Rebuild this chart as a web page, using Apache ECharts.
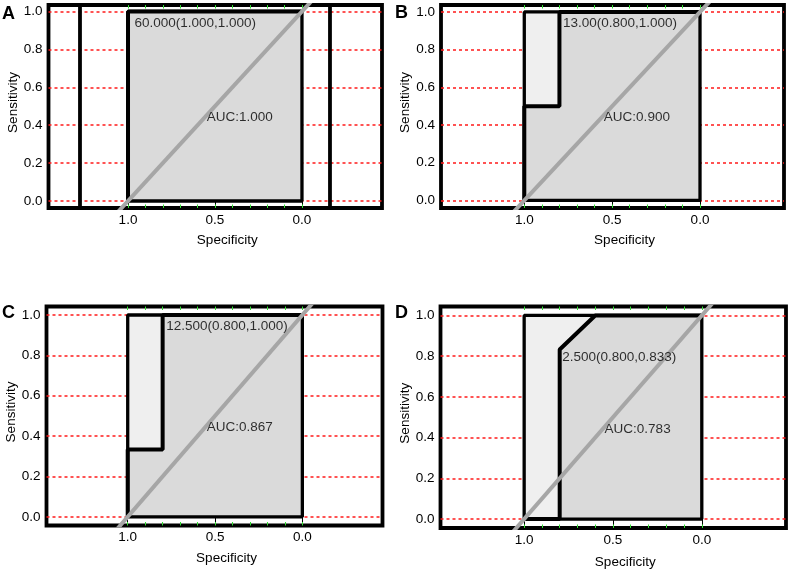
<!DOCTYPE html>
<html><head><meta charset="utf-8">
<script src="https://cdn.jsdelivr.net/npm/echarts@6/dist/echarts.min.js"></script>
<style>html,body{margin:0;padding:0;background:#fff}#c{width:789px;height:570px}</style>
</head><body><div id="c"></div>
<script>
// ---- data ----
const panelLetters = ['A', 'B', 'C', 'D'];
const rocA = [[1, 0], [1, 1], [0, 1]];
const rocB = [[1, 0], [1, 0.5], [0.8, 0.5], [0.8, 1], [0, 1]];
const rocC = [[1, 0], [1, 0.333], [0.8, 0.333], [0.8, 1], [0, 1]];
const rocD = [[1, 0], [0.8, 0], [0.8, 0.833], [0.6, 1], [0, 1]];
const rocCurves = [rocA, rocB, rocC, rocD];
const cutoffPoints = [[1, 1], [0.8, 1], [0.8, 1], [0.8, 0.833]];
const cutoffLabels = ['60.000(1.000,1.000)', '13.00(0.800,1.000)', '12.500(0.800,1.000)', '2.500(0.800,0.833)'];
const aucLabels = ['AUC:1.000', 'AUC:0.900', 'AUC:0.867', 'AUC:0.783'];
const aucLabelAnchor = [0.55, 0.44];
const extraVerticalA = [1.276, -0.161];
const unitSquare = [[1, 0], [1, 1], [0, 1], [0, 0], [1, 0]];
const squareTop = [[1, 1], [0, 1]];
const chanceLine = [[1.2, -0.2], [-0.2, 1.2]];
const yTicks = [0, 0.2, 0.4, 0.6, 0.8, 1.0];
const xTicks = [1.0, 0.5, 0.0];
const xMinorTicks = [0, 0.1, 0.2, 0.3, 0.4, 0.5, 0.6, 0.7, 0.8, 0.9, 1.0];

// ---- layout / style ----
const FONT = 'Liberation Sans, Arial, sans-serif';
const FS = 13.5;
const grids = [
  { left: 48.5, top: 5, width: 333.5, height: 203 },
  { left: 441, top: 5, width: 343, height: 203 },
  { left: 46.5, top: 306.5, width: 336, height: 219 },
  { left: 440.5, top: 306.5, width: 345.5, height: 221.5 }
];
const xRanges = [[-0.46, 1.457], [-0.478, 1.474], [-0.459, 1.465], [-0.474, 1.471]];
const yRanges = [[-0.037, 1.034], [-0.04, 1.037], [-0.043, 1.042], [-0.044, 1.044]];
const letterPos = [[2, 5], [395, 4], [2, 304], [395, 304]];
const xNameGaps = [25, 25, 26, 27];
const cutoffOffsets = [[7, 5], [4, 5], [4, 5], [3, 1]];

const option = {
  animation: false,
  backgroundColor: '#fff',
  textStyle: { fontFamily: FONT },
  grid: grids.map(g => Object.assign({
    show: true, borderColor: '#000', borderWidth: 3.8, backgroundColor: '#fff',
    containLabel: false, outerBoundsMode: 'none'
  }, g)),
  xAxis: [],
  yAxis: [],
  series: [],
  graphic: panelLetters.map((t, i) => ({
    type: 'text', left: letterPos[i][0], top: letterPos[i][1],
    style: { text: t, font: 'bold 18px ' + FONT, fill: '#000' }
  }))
};

grids.forEach((g, i) => {
  const fmt = v => v.toFixed(1);
  option.xAxis.push({
    type: 'value', gridIndex: i, inverse: true, min: xRanges[i][0], max: xRanges[i][1], position: 'bottom',
    axisLine: { show: false },
    axisTick: { show: true, customValues: xTicks, length: 7, lineStyle: { color: '#000', width: 1 } },
    axisLabel: { customValues: xTicks, formatter: fmt, margin: 5, fontSize: FS, color: '#000', fontFamily: FONT },
    splitLine: { show: false },
    name: 'Specificity', nameLocation: 'middle', nameGap: xNameGaps[i],
    nameTextStyle: { fontSize: FS, color: '#000', fontFamily: FONT, padding: [0, 0, 0, 24] }
  });
  option.xAxis.push({
    type: 'value', gridIndex: i, inverse: true, min: xRanges[i][0], max: xRanges[i][1], position: 'top',
    axisLine: { show: false },
    axisTick: { show: true, inside: true, customValues: xMinorTicks, length: 3.5, lineStyle: { color: '#33dd33', width: 1 } },
    axisLabel: { show: false }, splitLine: { show: false }
  });
  option.xAxis.push({
    type: 'value', gridIndex: i, inverse: true, min: xRanges[i][0], max: xRanges[i][1], position: 'bottom',
    axisLine: { show: false },
    axisTick: { show: true, inside: true, customValues: xMinorTicks, length: 3.5, lineStyle: { color: '#33dd33', width: 1 } },
    axisLabel: { show: false }, splitLine: { show: false }
  });
  option.yAxis.push({
    type: 'value', gridIndex: i, min: yRanges[i][0], max: yRanges[i][1],
    axisLine: { show: false },
    axisTick: { show: true, customValues: yTicks, length: 4, lineStyle: { color: '#000', width: 1 } },
    axisLabel: { customValues: yTicks, formatter: fmt, margin: 6, fontSize: FS, color: '#000', fontFamily: FONT },
    splitLine: { show: true, lineStyle: { color: '#ff1a1a', type: [3, 3], width: 1.5 } },
    name: 'Sensitivity', nameLocation: 'middle', nameGap: 22,
    nameTextStyle: { fontSize: FS, color: '#000', fontFamily: FONT, padding: [0, 0, 0, 8] }
  });

  const xi = i * 3, yi = i;
  const base = { xAxisIndex: xi, yAxisIndex: yi, silent: true, symbol: 'none', clip: true };
  option.series.push(Object.assign({}, base, {
    type: 'line', data: squareTop, lineStyle: { width: 0 },
    areaStyle: { color: '#efefef', opacity: 1, origin: 0 }, z: 1
  }));
  option.series.push(Object.assign({}, base, {
    type: 'line', data: rocCurves[i], lineStyle: { width: 0 },
    areaStyle: { color: '#dadada', opacity: 1, origin: 0 }, z: 2
  }));
  option.series.push(Object.assign({}, base, {
    type: 'line', data: unitSquare, lineStyle: { color: '#000', width: 3.3 }, z: 3
  }));
  option.series.push(Object.assign({}, base, {
    type: 'line', data: rocCurves[i], lineStyle: { color: '#000', width: 4 }, z: 4
  }));
  if (i === 0) {
    extraVerticalA.forEach(xv => {
      option.series.push(Object.assign({}, base, {
        type: 'line', data: [[xv, -0.2], [xv, 1.2]], lineStyle: { color: '#000', width: 3.8 }, z: 4
      }));
    });
  }
  option.series.push(Object.assign({}, base, {
    type: 'line', data: chanceLine, lineStyle: { color: '#a6a6a6', width: 4 }, z: 5
  }));
  option.series.push({
    type: 'scatter', xAxisIndex: xi, yAxisIndex: yi, silent: true, z: 6,
    data: [cutoffPoints[i]], symbolSize: 1, itemStyle: { color: 'rgba(0,0,0,0)' },
    label: { show: true, formatter: cutoffLabels[i], position: cutoffOffsets[i], align: 'left', verticalAlign: 'top',
      fontSize: FS, color: '#000', fontFamily: FONT }
  });
  option.series.push({
    type: 'scatter', xAxisIndex: xi, yAxisIndex: yi, silent: true, z: 6,
    data: [aucLabelAnchor], symbolSize: 1, itemStyle: { color: 'rgba(0,0,0,0)' },
    label: { show: true, formatter: aucLabels[i], position: [1, 0], align: 'left', verticalAlign: 'middle',
      fontSize: FS, color: '#000', fontFamily: FONT }
  });
});

const chart = echarts.init(document.getElementById('c'), null, { renderer: 'canvas' });
chart.setOption(option);
</script>
</body></html>
